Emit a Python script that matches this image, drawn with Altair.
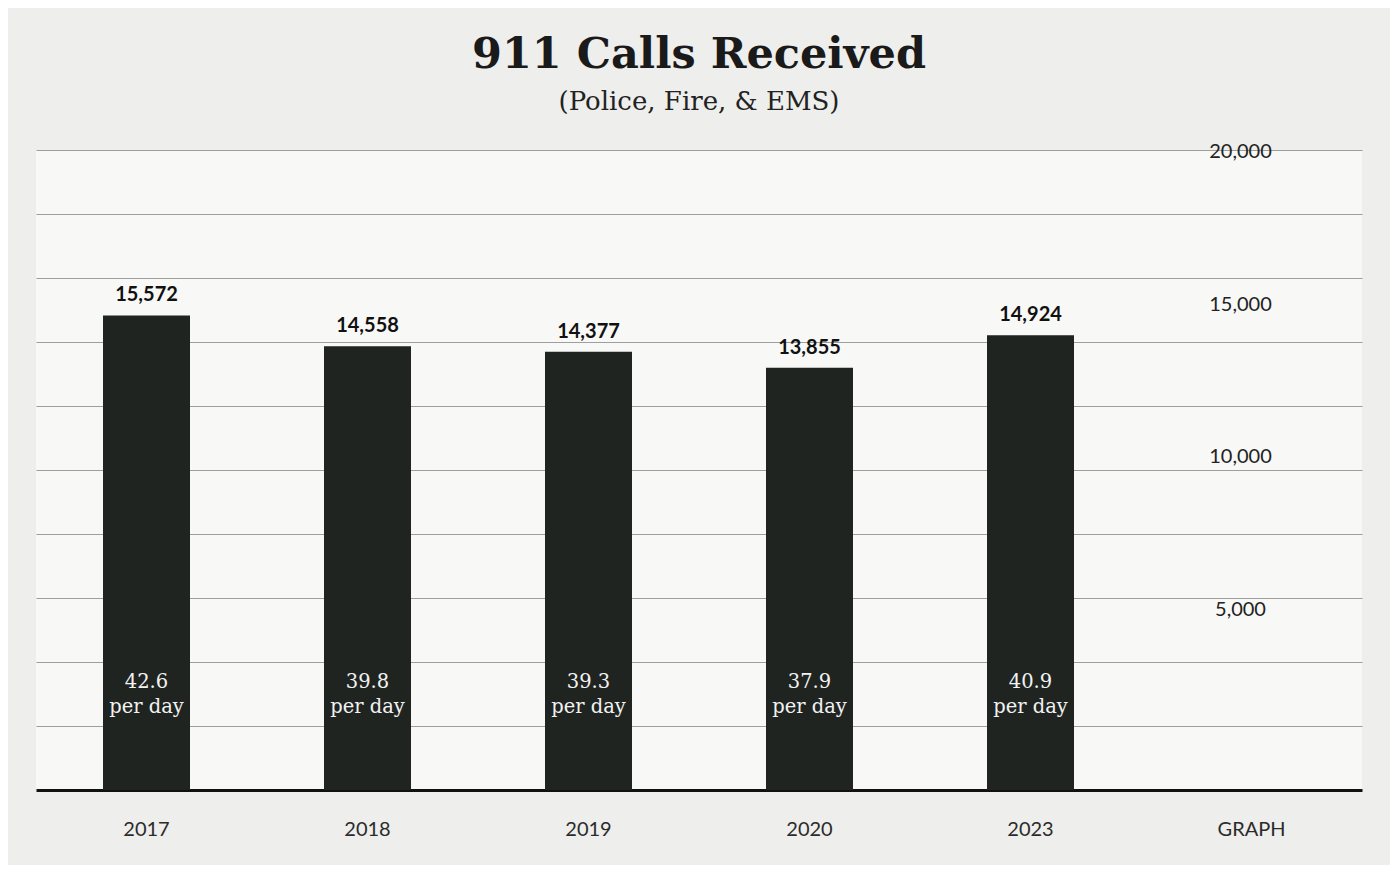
import altair as alt
import pandas as pd

years = ["2017", "2018", "2019", "2020", "2023"]
calls = [15572, 14558, 14377, 13855, 14924]
per_day = [42.6, 39.8, 39.3, 37.9, 40.9]
x_categories = years + ["GRAPH"]
axis_label_values = [5000, 10000, 15000, 20000]
grid_values = [2100, 4200, 6300, 8400, 10500, 12600, 14700, 16800, 18900, 21000]

df = pd.DataFrame({"year": years, "calls": calls, "per_day": per_day})
df["calls_label"] = df["calls"].map(lambda v: f"{v:,}")
df["per_day_label"] = df["per_day"].map(lambda v: f"{v:.1f}\nper day")

axis_df = pd.DataFrame({"year": ["GRAPH"] * len(axis_label_values), "v": axis_label_values})
axis_df["label"] = axis_df["v"].map(lambda v: f"{v:,}")

x_enc = alt.X(
    "year:N",
    scale=alt.Scale(domain=x_categories, paddingInner=0, paddingOuter=0),
    axis=alt.Axis(
        title=None, labelAngle=0, ticks=False, domainColor="#111111", domainWidth=3,
        labelPadding=29, labelFont="Lato", labelFontSize=20, labelColor="#2b2b2b",
        grid=False,
    ),
)
y_scale = alt.Scale(domain=[0, 21000], nice=False, zero=True)

bars = alt.Chart(df).mark_bar(size=87, color="#1f2421").encode(
    x=x_enc,
    y=alt.Y(
        "calls:Q",
        scale=y_scale,
        axis=alt.Axis(
            values=grid_values, grid=True, labels=False, ticks=False, domain=False,
            title=None, gridColor="#9e9e9e", gridWidth=1.2,
        ),
    ),
)

value_labels = alt.Chart(df).mark_text(
    dy=-20, font="Lato", fontSize=20, fontWeight="bold", color="#111111", baseline="middle"
).encode(x="year:N", y="calls:Q", text="calls_label:N")

per_day_labels = alt.Chart(df).mark_text(
    dy=-108, font="DejaVu Serif", fontSize=19.5, color="#f2f2f2", lineBreak="\n",
    lineHeight=25, baseline="middle",
).encode(x="year:N", y=alt.datum(0), text="per_day_label:N")

axis_labels = alt.Chart(axis_df).mark_text(
    dx=-11, dy=-28, font="Lato", fontSize=20, color="#222222", baseline="middle"
).encode(x="year:N", y="v:Q", text="label:N")

chart = (
    alt.layer(bars, value_labels, per_day_labels, axis_labels)
    .properties(
        width=1326,
        height=640,
        padding={"left": 28, "right": 28, "top": 26, "bottom": 26},
        background="#eeeeec",
        title=alt.TitleParams(
            text="911 Calls Received",
            subtitle="(Police, Fire, & EMS)",
            font="DejaVu Serif", fontSize=43, fontWeight="bold", color="#1a1a1a",
            subtitleFont="DejaVu Serif", subtitleFontSize=26, subtitleColor="#222222",
            subtitlePadding=12, anchor="middle", offset=27,
        ),
    )
    .configure_view(stroke=None, fill="#f8f8f6")
)

chart.save("out.html", embed_options={"renderer": "svg", "actions": False})
